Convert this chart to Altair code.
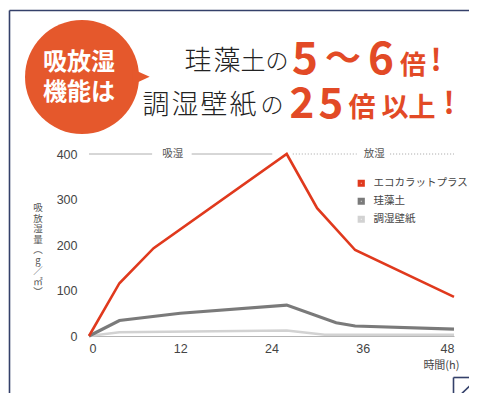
import altair as alt
import pandas as pd

# ---------------- data ----------------
series_names = ["エコカラットプラス", "珪藻土", "調湿壁紙"]
series_colors = ["#e0391d", "#7a7a7a", "#d2d2d2"]

eco_hours = [0, 4, 8.5, 26, 30, 35, 48]
eco_values = [0, 116, 193, 400, 281, 189, 86]

dia_hours = [0, 4, 12, 26, 32.5, 35, 48]
dia_values = [0, 34, 50, 68, 29, 22, 15]

wall_hours = [0, 4, 26, 31, 48]
wall_values = [0, 8, 12, 3, 3]

x_ticks = [0, 12, 24, 36, 48]
y_ticks = [0, 100, 200, 300, 400]

phase_labels = ["吸湿", "放湿"]
phase_label_hours = [11, 37.5]
phase_seg_start = [0, 13.5, 26.8, 39.6]
phase_seg_end = [8.3, 24.1, 35.2, 48]
phase_seg_dotted = [False, False, True, True]

x_title = "時間(h)"
y_title = "吸放湿量︵g／㎡︶"

bubble_lines = ["吸放湿", "機能は"]
headline_black_1 = "珪藻土の"
headline_black_2 = "調湿壁紙の"
headline_red_1 = ["5", "～", "6", "倍", "!"]
headline_red_2 = ["2", "5", "倍", "以", "上", "!"]

# ---------------- layout ----------------
OX, OY = 89, 154          # page position of plot origin
W, H = 365, 182
FONT = "Noto Sans CJK JP"
AXFONT = "Liberation Sans"

rows = []
for name, hs, vs in [(series_names[0], eco_hours, eco_values),
                     (series_names[1], dia_hours, dia_values),
                     (series_names[2], wall_hours, wall_values)]:
    for h, v in zip(hs, vs):
        rows.append({"series": name, "hour": h, "value": v})
df = pd.DataFrame(rows)

xscale = alt.Scale(domain=[0, 48], nice=False, zero=False)
yscale = alt.Scale(domain=[0, 400], nice=False)
color = alt.Color("series:N",
                  scale=alt.Scale(domain=series_names, range=series_colors),
                  sort=series_names,
                  legend=alt.Legend(title=None, orient="none",
                                    legendX=267, legendY=24,
                                    symbolType="square", symbolSize=16,
                                    symbolStrokeWidth=3.2, labelFont=FONT,
                                    labelFontSize=10.5, labelColor="#444",
                                    rowPadding=0, labelOffset=7, padding=0))

base = alt.Chart(df)

def line_layer(name, width, with_axis):
    xax = alt.Axis(values=x_ticks, ticks=False, grid=False, domain=True,
                   domainColor="#b5b5b5", domainWidth=1,
                   labelFont=AXFONT, labelFontSize=12.5, labelColor="#444",
                   labelPadding=6, title=x_title, titleFont=FONT,
                   titleFontSize=11, titleFontWeight="normal",
                   titleColor="#444", titleAnchor="end", titleAlign="right",
                   titleX=370, titleY=29, titleBaseline="middle") if with_axis else None
    yax = alt.Axis(values=y_ticks, ticks=False, grid=False, domain=False,
                   labelFont=AXFONT, labelFontSize=12.5, labelColor="#444",
                   labelPadding=12, title=None) if with_axis else None
    return base.transform_filter(alt.datum.series == name).mark_line(
        strokeWidth=width, strokeJoin="miter").encode(
        x=alt.X("hour:Q", scale=xscale, axis=xax),
        y=alt.Y("value:Q", scale=yscale, axis=yax),
        color=color,
    )

lines = [line_layer(series_names[2], 2.5, True),
         line_layer(series_names[1], 3.2, False),
         line_layer(series_names[0], 2.6, False)]

# phase annotation along the 400 line
seg_df = pd.DataFrame({"x": phase_seg_start, "x2": phase_seg_end,
                       "dotted": phase_seg_dotted})
seg_solid = alt.Chart(seg_df).transform_filter("!datum.dotted").mark_rule(
    color="#9a9a9a", strokeWidth=0.8).encode(
    x=alt.X("x:Q", scale=xscale, axis=None), x2="x2:Q", y=alt.value(0))
seg_dot = alt.Chart(seg_df).transform_filter("datum.dotted").mark_rule(
    color="#9a9a9a", strokeWidth=0.9, strokeDash=[1, 2]).encode(
    x=alt.X("x:Q", scale=xscale, axis=None), x2="x2:Q", y=alt.value(0))
phase_df = pd.DataFrame({"label": phase_labels, "hour": phase_label_hours})
phase_text = alt.Chart(phase_df).mark_text(
    font=FONT, fontSize=10.5, color="#555", baseline="middle").encode(
    x=alt.X("hour:Q", scale=xscale, axis=None), y=alt.value(0), text="label:N")

# vertical y title
ytitle = alt.Chart(pd.DataFrame({"t": ["\n".join(list(y_title))]})).mark_text(
    font=FONT, fontSize=9.5, color="#555", lineBreak="\n", lineHeight=10.5,
    baseline="top", align="center").encode(
    x=alt.value(38 - OX), y=alt.value(203 - OY), text="t:N")

# ---------------- header decoration ----------------
def px_df(items):
    return pd.DataFrame([{"t": t, "px": x - OX, "py": y - OY, "s": s}
                         for t, x, y, s in items])

def glyphs(items, color_, weight):
    return alt.Chart(px_df(items)).mark_text(
        font=FONT, fontWeight=weight, color=color_, baseline="middle",
        align="center").encode(
        x=alt.X("px:Q", scale=None, axis=None),
        y=alt.Y("py:Q", scale=None, axis=None),
        size=alt.Size("s:Q", scale=None, legend=None),
        text="t:N")

black_items = []
for ch, x, s in zip(headline_black_1, [198, 227, 253, 277], [27, 27, 25, 23]):
    black_items.append((ch, x, 62, s))
for ch, x, s in zip(headline_black_2, [156, 185, 214, 243, 272], [27, 27, 27, 27, 23]):
    black_items.append((ch, x, 106, s))

red_items = []
for ch, x, y, s in zip(headline_red_1, [305, 343, 381, 413, 436],
                       [61, 60, 61, 66, 62], [44, 36, 44, 26, 30]):
    red_items.append((ch, x, y, s))
for ch, x, y, s in zip(headline_red_2, [302, 331, 362, 395, 422, 449],
                       [105, 105, 109, 109, 109, 105], [42, 42, 27, 27, 27, 30]):
    red_items.append((ch, x, y, s))

white_items = [(bubble_lines[0], 79, 63, 24), (bubble_lines[1], 79, 93, 24)]

bubble_df = pd.DataFrame([{"px": 82 - OX, "py": 77 - OY}])
bubble = alt.Chart(bubble_df).mark_point(
    filled=True, shape="circle", size=114 * 114, color="#e5582c", opacity=1).encode(
    x=alt.X("px:Q", scale=None, axis=None), y=alt.Y("py:Q", scale=None, axis=None))
tail_df = pd.DataFrame([{"px": 141 - OX, "py": 76 - OY}])
tail = alt.Chart(tail_df).mark_point(
    filled=True, shape="M-1,-0.8L1,0.1L-1,1Z", size=300, color="#e5582c",
    opacity=1).encode(
    x=alt.X("px:Q", scale=None, axis=None), y=alt.Y("py:Q", scale=None, axis=None))

frame_df = pd.DataFrame([
    {"x": 9.5, "y": 10.5, "x2": 9.5, "y2": 400},
    {"x": 9.5, "y": 10.5, "x2": 477, "y2": 10.5},
    {"x": 453.5, "y": 377.5, "x2": 477, "y2": 377.5},
    {"x": 453.5, "y": 377.5, "x2": 453.5, "y2": 400},
    {"x": 455, "y": 400, "x2": 477, "y2": 379},
])
for c in ["x", "x2"]:
    frame_df[c] = frame_df[c] - OX
for c in ["y", "y2"]:
    frame_df[c] = frame_df[c] - OY
frame = alt.Chart(frame_df).mark_rule(color="#34406a", strokeWidth=1.6).encode(
    x=alt.X("x:Q", scale=None, axis=None), x2="x2:Q",
    y=alt.Y("y:Q", scale=None, axis=None), y2="y2:Q")

chart = alt.layer(
    frame, bubble, tail,
    glyphs(white_items, "#ffffff", "bold"),
    glyphs(black_items, "#222222", 300),
    glyphs(red_items, "#e24a26", "bold"),
    seg_solid, seg_dot, phase_text, ytitle,
    *lines,
).resolve_scale(x="independent", y="independent").properties(
    width=W, height=H,
    autosize=alt.AutoSizeParams(type="none"),
    padding={"left": OX - 8, "top": OY - 8, "right": 477 - 16 - W - (OX - 8), "bottom": 385 - H - (OY - 8)},
    background="white",
).configure_view(stroke=None)

chart.save("out.html", embed_options={"renderer": "svg", "actions": False})
